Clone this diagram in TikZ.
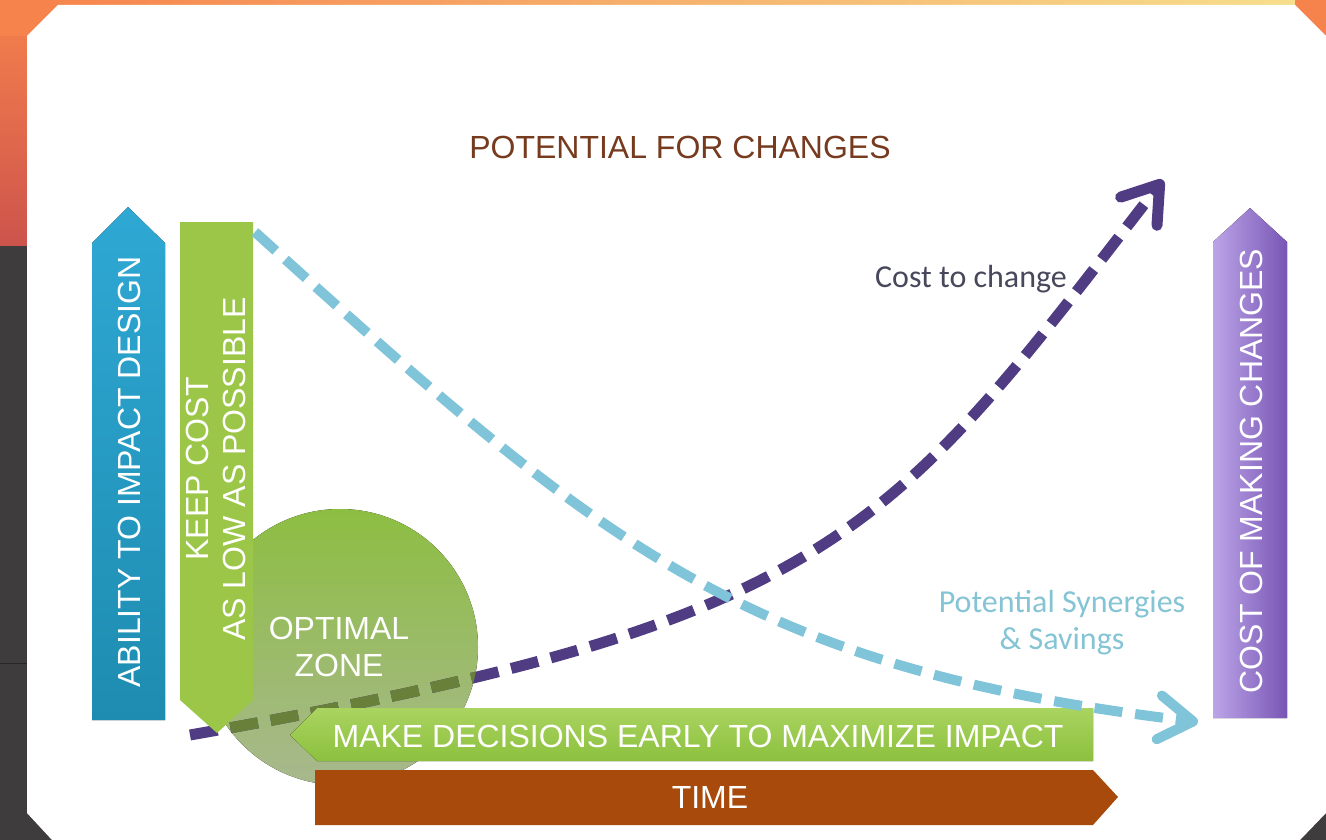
\documentclass[tikz,border=0pt]{standalone}
\usepackage{fontspec}
\setmainfont{Liberation Sans}
\newfontfamily\calibri{Carlito}
\usepackage{xcolor}
\usetikzlibrary{arrows.meta}

\definecolor{backgray}{RGB}{62,60,61}
\definecolor{frameorange}{RGB}{246,130,76}
\definecolor{framered}{RGB}{205,84,76}
\definecolor{frameyellow}{RGB}{246,222,140}
\definecolor{abilitytop}{RGB}{46,168,212}
\definecolor{abilitybot}{RGB}{30,140,176}
\definecolor{keepgreen}{RGB}{156,198,72}
\definecolor{zonetop}{RGB}{141,190,66}
\definecolor{zonebot}{RGB}{168,184,142}
\definecolor{decidetop}{RGB}{170,212,96}
\definecolor{decidebot}{RGB}{140,192,62}
\definecolor{timebrown}{RGB}{168,74,12}
\definecolor{costleft}{RGB}{188,164,232}
\definecolor{costright}{RGB}{120,86,180}
\definecolor{costline}{RGB}{80,60,130}
\definecolor{costolive}{RGB}{104,128,58}
\definecolor{saveline}{RGB}{128,196,218}
\definecolor{titlebrown}{RGB}{118,58,30}
\definecolor{slate}{RGB}{72,72,92}
\definecolor{saveblue}{RGB}{132,196,212}

\begin{document}
\begin{tikzpicture}[x=1pt,y=-1pt,
  every node/.style={font=\fontsize{32}{37}\selectfont,inner sep=0pt},
  boxtext/.style={text=white,align=center},
  dashcurve/.style={line width=#1,dash pattern=on 28pt off 13pt}]
\useasboundingbox (0,0) rectangle (1326,840);
% frame behind the sheet
\fill[backgray] (0,0) rectangle (1326,840);
\fill[top color=frameorange,bottom color=framered] (0,0) rectangle (27,245);
\fill[left color=frameorange,right color=frameyellow] (0,0) rectangle (1295,5);
\fill[frameorange] (1295,0) rectangle (1326,36);
\fill[frameorange] (0,0) rectangle (58,36);
\draw[black!85,line width=1] (0,663) -- (27,663);
\fill[white] (58,5) -- (1295,5) -- (1326,36) -- (1326,813) -- (1300,840) -- (52,840) -- (27,813) -- (27,36) -- cycle;
% optimal zone and the cost curve under it
\fill[top color=zonetop,bottom color=zonebot] (340,647) circle (138);
\coordinate (c0) at (190,735);
\coordinate (c1) at (1163,180);
\draw[costline,dashcurve=11pt,-{Straight Barb[length=34pt,width=46pt,round]}] (c0) .. controls (840,621) and (888,535) .. (c1);
\begin{scope}
\clip (340,647) circle (138);
\draw[costolive,dashcurve=11pt] (c0) .. controls (840,621) and (888,535) .. (c1);
\end{scope}
% banners
\fill[keepgreen] (180,222) -- (253,222) -- (253,700) -- (217,733) -- (180,700) -- cycle;
\node[boxtext,rotate=90] (keep) at (216,469) {KEEP COST\\AS LOW AS POSSIBLE};
\node[boxtext] (zone) at (339,647) {OPTIMAL\\ZONE};
\fill[top color=decidetop,bottom color=decidebot] (1093,708) -- (1093,761) -- (317,761) -- (290,735) -- (317,708) -- cycle;
\node[boxtext] (decide) at (698,736) {MAKE DECISIONS EARLY TO MAXIMIZE IMPACT};
\fill[timebrown] (315,770) -- (1093,770) -- (1118,797) -- (1093,825) -- (315,825) -- cycle;
\node[boxtext] (time) at (710,797) {TIME};
\fill[top color=abilitytop,bottom color=abilitybot] (92,720) -- (92,243) -- (128,207) -- (165,243) -- (165,720) -- cycle;
\node[boxtext,rotate=90] (ability) at (129,472) {ABILITY TO IMPACT DESIGN};
\fill[left color=costleft,right color=costright] (1213,718) -- (1213,242) -- (1250,208) -- (1287,242) -- (1287,718) -- cycle;
\node[boxtext,rotate=90] (making) at (1251,471) {COST OF MAKING CHANGES};
% savings curve
\coordinate (s0) at (255,232);
\coordinate (s1) at (1198,722);
\draw[saveline,dashcurve=10pt,-{Straight Barb[length=34pt,width=44pt,round]}] (s0) .. controls (603,547) and (745,668) .. (s1);
% labels
\node[text=titlebrown] (title) at (680,147) {POTENTIAL FOR CHANGES};
\node[text=slate,font={\calibri\fontsize{32}{37}\selectfont}] (costlbl) at (971,279) {Cost to change};
\node[text=saveblue,font={\calibri\fontsize{32}{37}\selectfont},align=center] (savelbl) at (1062,623) {Potential Synergies\\\& Savings};
\end{tikzpicture}
\end{document}
